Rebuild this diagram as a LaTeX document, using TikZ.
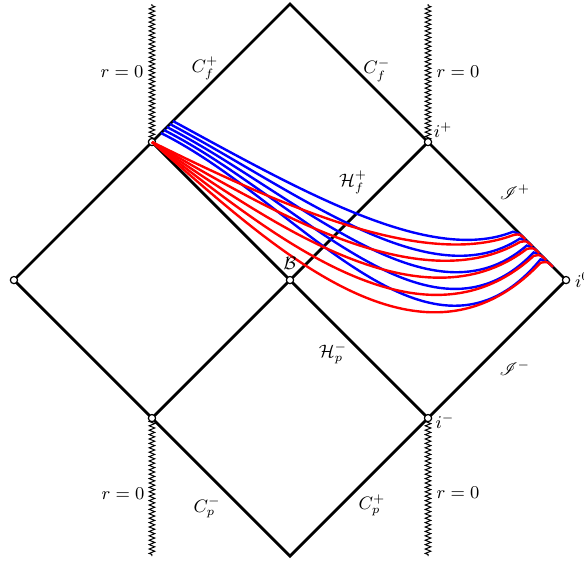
\documentclass[tikz,border=0pt]{standalone}
\usepackage{amsmath,amssymb,mathrsfs}
\usepackage{tikz}
\usetikzlibrary{decorations.pathmorphing,calc}
\tikzset{
  frame/.style={line width=1.4pt},
  singular/.style={decorate,decoration={zigzag,segment length=2.2pt,amplitude=1.4pt},line width=0.5pt},
  endpt/.style={circle,draw,fill=white,line width=0.6pt,inner sep=0pt,minimum size=3.6pt},
  geod/.style={line width=1.2pt},
}

\begin{document}
\begin{tikzpicture}[x=2.425cm,y=2.425cm,font=\small]
\useasboundingbox (-2.101,-2.029) rectangle (2.130,2.029);
% corners of the diagram
\coordinate (T) at (0,2);
\coordinate (L) at (-2,0);
\coordinate (R) at (2,0);
\coordinate (Bt) at (0,-2);
\coordinate (B) at (0,0);
\coordinate (UL) at (-1,1);
\coordinate (UR) at (1,1);
\coordinate (LL) at (-1,-1);
\coordinate (LR) at (1,-1);
\coordinate (ULs) at (-1,2);
\coordinate (URs) at (1,2);
\coordinate (LLs) at (-1,-2);
\coordinate (LRs) at (1,-2);
% horizons and null infinity
\draw[frame] (L) -- (T) -- (R) -- (Bt) -- cycle;
\draw[frame] (UL) -- (LR);
\draw[frame] (LL) -- (UR);
% singularities
\draw[singular] (UL) -- (ULs);
\draw[singular] (UR) -- (URs);
\draw[singular] (LL) -- (LLs);
\draw[singular] (LR) -- (LRs);
\foreach \p in {L,UL,UR,B,LL,LR,R}
  \node[endpt] (n\p) at (\p) {};
% geodesics
\foreach \i in {0,...,4}{
  \pgfmathsetmacro{\tpos}{0.665+0.05*\i}
  \coordinate (E\i) at ({1+\tpos},{1-\tpos});
  \draw[geod,blue] ({-0.848-0.0217*\i},{1.152-0.0217*\i})
    .. controls (0.0725,{0.652-0.0217*\i}) and (1.014,{0.109-0.232*\i}) .. ($(E\i)+(-0.05,0.015)$)
    .. controls (E\i) .. ($(E\i)+(0.04,-0.04)$);
}
\foreach \i in {0,...,4}{
  \pgfmathsetmacro{\tpos}{0.665+0.05*\i}
  \coordinate (F\i) at ({1+\tpos},{1-\tpos});
  \draw[geod,red] (UL)
    .. controls (-0.145,{0.580-0.0797*\i}) and (0.942,{0.0725-0.217*\i}) .. ($(F\i)+(-0.05,-0.01)$)
    .. controls (F\i) .. ($(F\i)+(0.04,-0.04)$);
}
% labels
\node (rTL) at (-1.217,1.507) {$r = 0$};
\node (rTR) at (1.217,1.507) {$r = 0$};
\node (rBL) at (-1.210,-1.551) {$r = 0$};
\node (rBR) at (1.217,-1.543) {$r = 0$};
\node (Cfp) at (-0.616,1.536) {$C_f^+$};
\node (Cfm) at (0.630,1.522) {$C_f^-$};
\node (Cpm) at (-0.601,-1.645) {$C_p^-$};
\node (Cpp) at (0.594,-1.630) {$C_p^+$};
\node (ip) at (1.109,1.087) {$i^+$};
\node (im) at (1.123,-1.022) {$i^-$};
\node[right=1pt] (i0) at (R) {$i^0$};
\node (Sp) at (1.630,0.638) {$\mathscr{I}^+$};
\node (Sm) at (1.630,-0.638) {$\mathscr{I}^-$};
\node (Hf) at (0.457,0.710) {$\mathcal{H}_f^+$};
\node (Hp) at (0.312,-0.529) {$\mathcal{H}_p^-$};
\node (Bif) at (0,0.123) {$\mathcal{B}$};
\end{tikzpicture}
\end{document}
